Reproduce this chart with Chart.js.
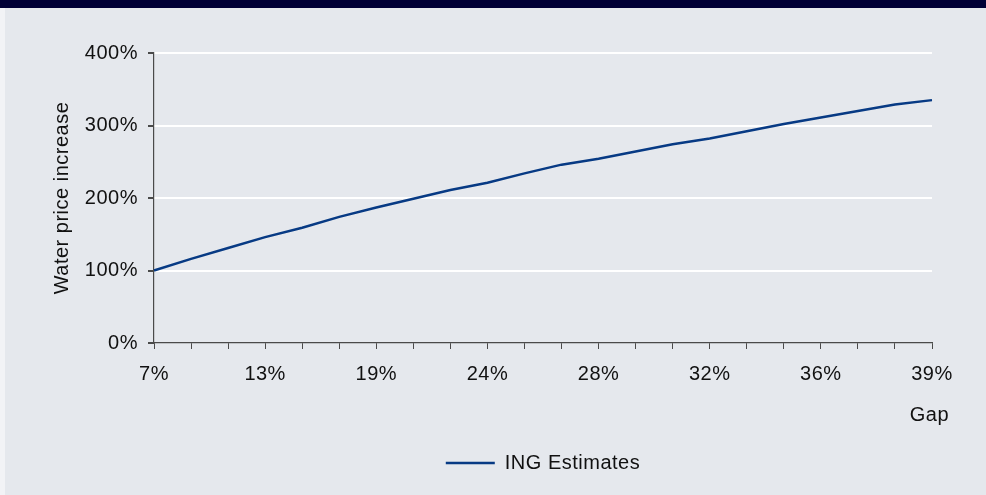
<!DOCTYPE html>
<html>
<head>
<meta charset="utf-8">
<script src="https://cdn.jsdelivr.net/npm/chart.js@4"></script>
<style>
  html, body { margin: 0; padding: 0; }
  body { width: 986px; height: 495px; background: #e5e8ed; position: relative; overflow: hidden; }
  #band { position: absolute; left: 0; top: 0; width: 986px; height: 8px; background: #000036; }
  #edge { position: absolute; left: 0; top: 8px; width: 5px; height: 487px; background: #f2f3f6; }
  #wrap { position: absolute; left: 0; top: 0; width: 986px; height: 495px; }
</style>
</head>
<body>
<div id="edge"></div>
<div id="wrap"><canvas id="gap-chart"></canvas></div>
<div id="band"></div>
<script>
// supply/demand gap (x) against the water price increase needed (y)
const gapLabels = ['7%', '9%', '11%', '13%', '15%', '17%', '19%', '21%', '22%', '24%', '25%',
                   '27%', '28%', '29%', '31%', '32%', '33%', '35%', '36%', '37%', '38%', '39%'];
const priceIncrease = [100, 116, 131, 146, 159, 174, 187, 199, 211, 221, 234,
                       246, 254, 264, 274, 282, 292, 302, 311, 320, 329, 335];
const yTicks = [0, 100, 200, 300, 400];
const xTitle = 'Gap';

const fontName = '"Liberation Sans", Arial, sans-serif';
const fontSize = 20;
const axisGrey = '#4a4a4a';
const textColor = '#111';
const xTitlePadBottom = 16;

// slightly wider text spacing, set again each time the canvas gets resized
const spacing = {
    id: 'spacing',
    beforeLayout(chart) { chart.ctx.letterSpacing = '0.5px'; },
    beforeDraw(chart) { chart.ctx.letterSpacing = '0.5px'; }
};

// legend sits centred under the plot area rather than the whole canvas,
// and the x-axis title hangs a little past the last tick
const placement = {
    id: 'placement',
    afterLayout(chart) {
        chart.legend.left = chart.chartArea.left;
        chart.legend.right = chart.chartArea.right;
    },
    afterDraw(chart) {
        const ctx = chart.ctx;
        const xs = chart.scales.x;
        ctx.save();
        ctx.letterSpacing = '0.5px';
        ctx.font = fontSize + 'px ' + fontName;
        ctx.fillStyle = textColor;
        ctx.textAlign = 'right';
        ctx.textBaseline = 'middle';
        ctx.fillText(xTitle, chart.chartArea.right + 17, xs.bottom - xTitlePadBottom - fontSize * 0.6);
        ctx.restore();
    }
};

const gap_canvas = document.getElementById('gap-chart').getContext('2d');

let gap_chart = new Chart(
    gap_canvas,
    {
        type: 'line',
        data: {
            labels: gapLabels,
            datasets: [
                {
                    label: 'ING Estimates',
                    data: priceIncrease,
                    borderColor: '#073a84',
                    backgroundColor: '#073a84',
                    borderWidth: 2.5,
                    pointRadius: 0,
                    tension: 0
                }
            ]
        },
        plugins: [spacing, placement],
        options: {
            responsive: true,
            maintainAspectRatio: false,
            animation: false,
            layout: {
                padding: { left: 50, right: 54, top: 53, bottom: 12 }
            },
            plugins: {
                tooltip: { enabled: false },
                legend: {
                    position: 'bottom',
                    labels: {
                        usePointStyle: true,
                        pointStyle: 'line',
                        pointStyleWidth: 49,
                        color: textColor,
                        padding: 10,
                        font: { family: fontName, size: fontSize }
                    }
                }
            },
            scales: {
                x: {
                    offset: false,
                    border: { color: axisGrey, width: 1.2 },
                    grid: {
                        drawOnChartArea: false,
                        drawTicks: true,
                        tickLength: 6,
                        tickColor: axisGrey
                    },
                    ticks: {
                        autoSkip: false,
                        maxRotation: 0,
                        padding: 13,
                        color: textColor,
                        font: { family: fontName, size: fontSize },
                        callback: function(value, index) {
                            return index % 3 === 0 ? gapLabels[index] : '';
                        }
                    },
                    title: {
                        // space for the title is kept here, the text itself is drawn by the placement plugin
                        display: true,
                        text: xTitle,
                        align: 'end',
                        color: 'rgba(0,0,0,0)',
                        padding: { top: 4, bottom: xTitlePadBottom },
                        font: { family: fontName, size: fontSize }
                    }
                },
                y: {
                    min: 0,
                    max: 400,
                    afterFit: function(scale) { scale.width = 104; },
                    afterBuildTicks: function(scale) {
                        scale.ticks = yTicks.map(v => ({ value: v }));
                    },
                    border: { color: axisGrey, width: 1.2 },
                    grid: {
                        color: ctx => ctx.tick && ctx.tick.value === 0 ? 'rgba(0,0,0,0)' : '#ffffff',
                        lineWidth: 2,
                        tickLength: 6,
                        tickColor: axisGrey
                    },
                    ticks: {
                        padding: 10,
                        color: textColor,
                        font: { family: fontName, size: fontSize },
                        callback: value => value + '%'
                    },
                    title: {
                        display: true,
                        text: 'Water price increase',
                        color: textColor,
                        padding: { top: 0, bottom: 6 },
                        font: { family: fontName, size: fontSize }
                    }
                }
            }
        }
    }
);
</script>
</body>
</html>
